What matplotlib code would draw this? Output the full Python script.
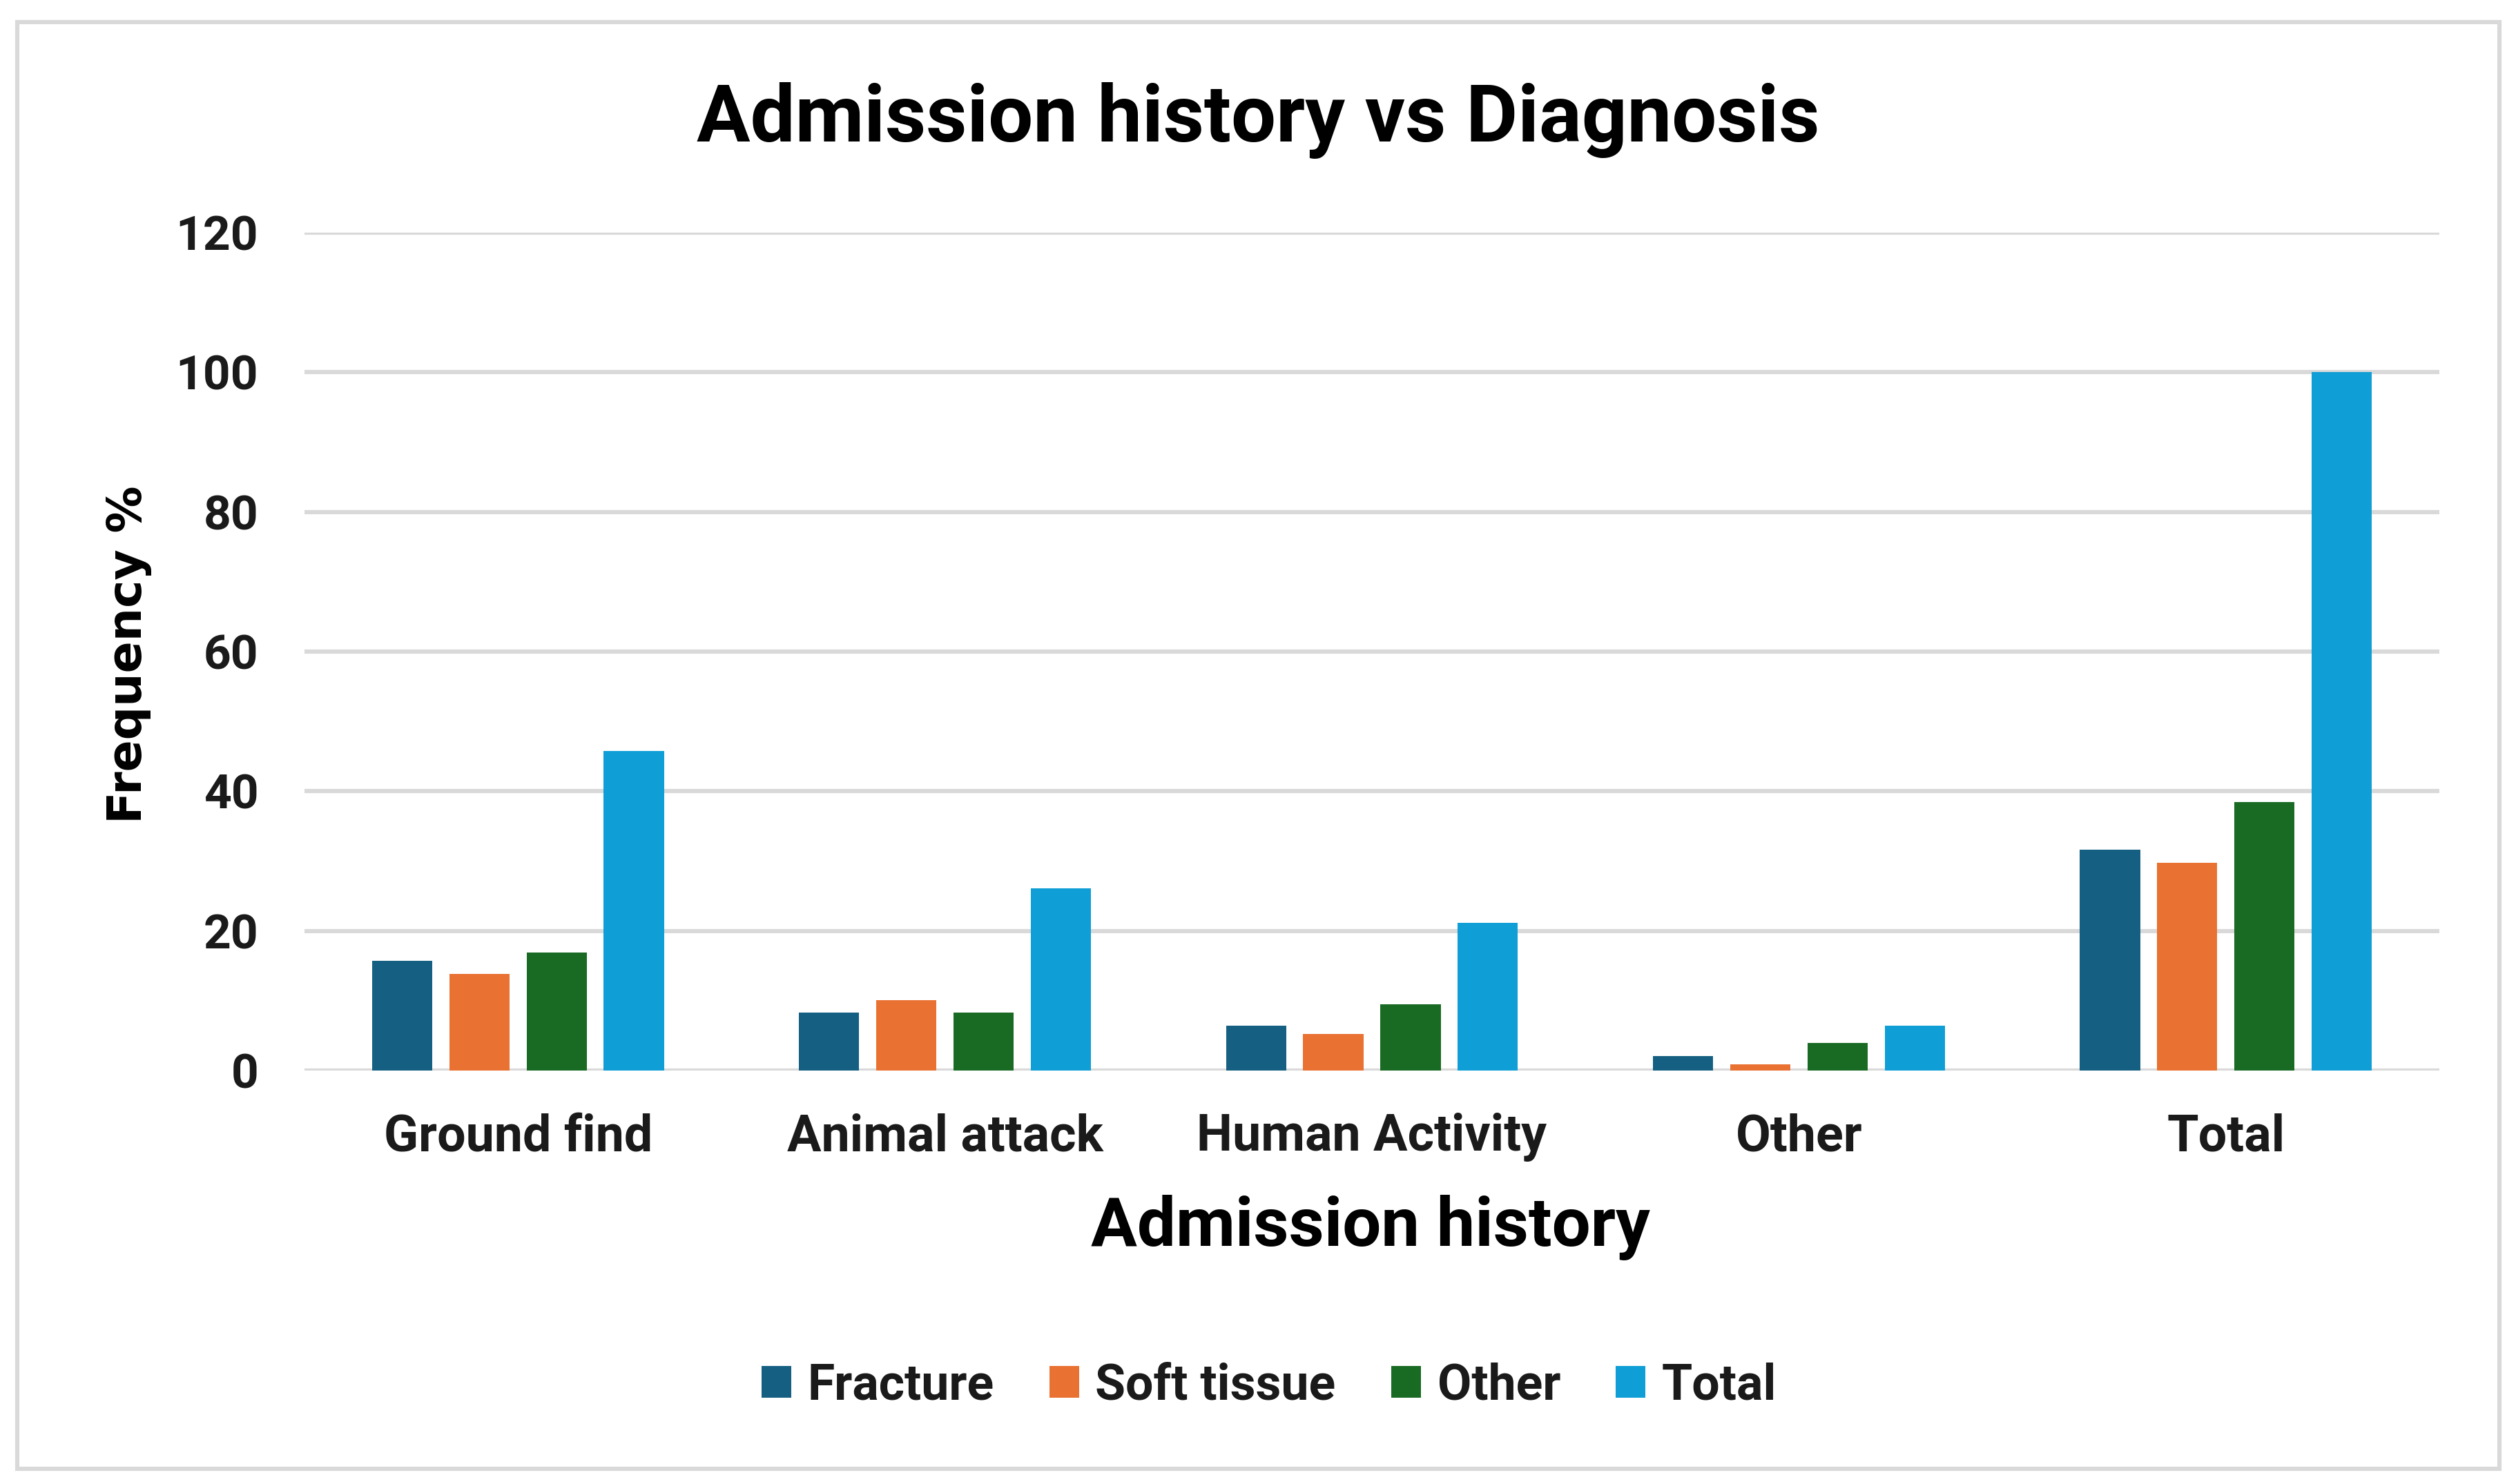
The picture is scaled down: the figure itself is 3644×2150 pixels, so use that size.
import matplotlib
matplotlib.use("Agg")
import matplotlib.pyplot as plt
from matplotlib.patches import Rectangle
import numpy as np

categories = ["Ground find", "Animal attack", "Human Activity", "Other", "Total"]
series_names = ["Fracture", "Soft tissue", "Other", "Total"]
fracture = [15.7, 8.3, 6.4, 2.1, 31.6]
soft_tissue = [13.8, 10.1, 5.2, 0.9, 29.8]
other = [16.9, 8.3, 9.5, 4.0, 38.5]
total = [45.8, 26.1, 21.2, 6.4, 100.0]
y_ticks = [0, 20, 40, 60, 80, 100, 120]

colors = ["#156082", "#E97132", "#196B24", "#0F9ED5"]
series = [fracture, soft_tissue, other, total]

plt.rcParams['font.family'] = ['Roboto', 'DejaVu Sans']

W, H, DPI = 3644, 2150, 200
fig = plt.figure(figsize=(W / DPI, H / DPI), dpi=DPI)
fig.patch.set_facecolor("white")

# outer border
fig.patches.append(Rectangle((25 / W, 1 - 2128 / H), (3620 - 25) / W, (2128 - 32) / H,
                             transform=fig.transFigure, fill=False,
                             edgecolor="#D9D9D9", linewidth=2.2))

left, right = 441 / W, 3533 / W
bottom, top = 1 - 1551 / H, 1 - 337 / H
ax = fig.add_axes([left, bottom, right - left, top - bottom])

x = np.arange(len(categories))
step = 0.181
width = 0.141
for i, (vals, name, c) in enumerate(zip(series, series_names, colors)):
    ax.bar(x + (i - 1.5) * step, vals, width=width, color=c, label=name, zorder=3)

ax.set_xlim(-0.5, len(categories) - 0.5)
ax.set_ylim(0, 120)
ax.set_yticks(y_ticks)
ax.yaxis.grid(True, color="#D9D9D9", linewidth=2.2, zorder=0)
ax.set_axisbelow(True)
for s in ax.spines.values():
    s.set_visible(False)
ax.tick_params(axis="both", length=0)
ax.tick_params(axis="y", pad=24)
ax.tick_params(axis="x", pad=22)
ax.set_xticks(x)
ax.set_xticklabels(categories, fontsize=26.5, fontweight="bold", color="#1a1a1a")
for lab in ax.get_yticklabels():
    lab.set_fontsize(25)
    lab.set_fontweight("bold")
    lab.set_color("#1a1a1a")

fig.text(0.5, 1 - 205 / H, "Admission history vs Diagnosis",
         ha="center", va="baseline", fontsize=41.5, fontweight="bold", color="black")
fig.text(1985 / W, 1 - 1805 / H, "Admission history", ha="center", va="baseline",
         fontsize=35.8, fontweight="bold", color="black")
fig.text(187 / W, 1 - 948 / H, "Frequency %", ha="center", va="center", rotation=90,
         fontsize=24.5, fontweight="bold", color="black", family=["DejaVu Sans"])

leg = fig.legend(loc="center", bbox_to_anchor=(1838 / W, 1 - 2008 / H), ncol=4,
                 frameon=False, handlelength=0.6, handleheight=0.6,
                 handletextpad=0.33, columnspacing=1.12,
                 prop={"size": 25.8, "weight": "bold"})
for t in leg.get_texts():
    t.set_color("#1a1a1a")

fig.savefig("out.png", dpi=DPI)
